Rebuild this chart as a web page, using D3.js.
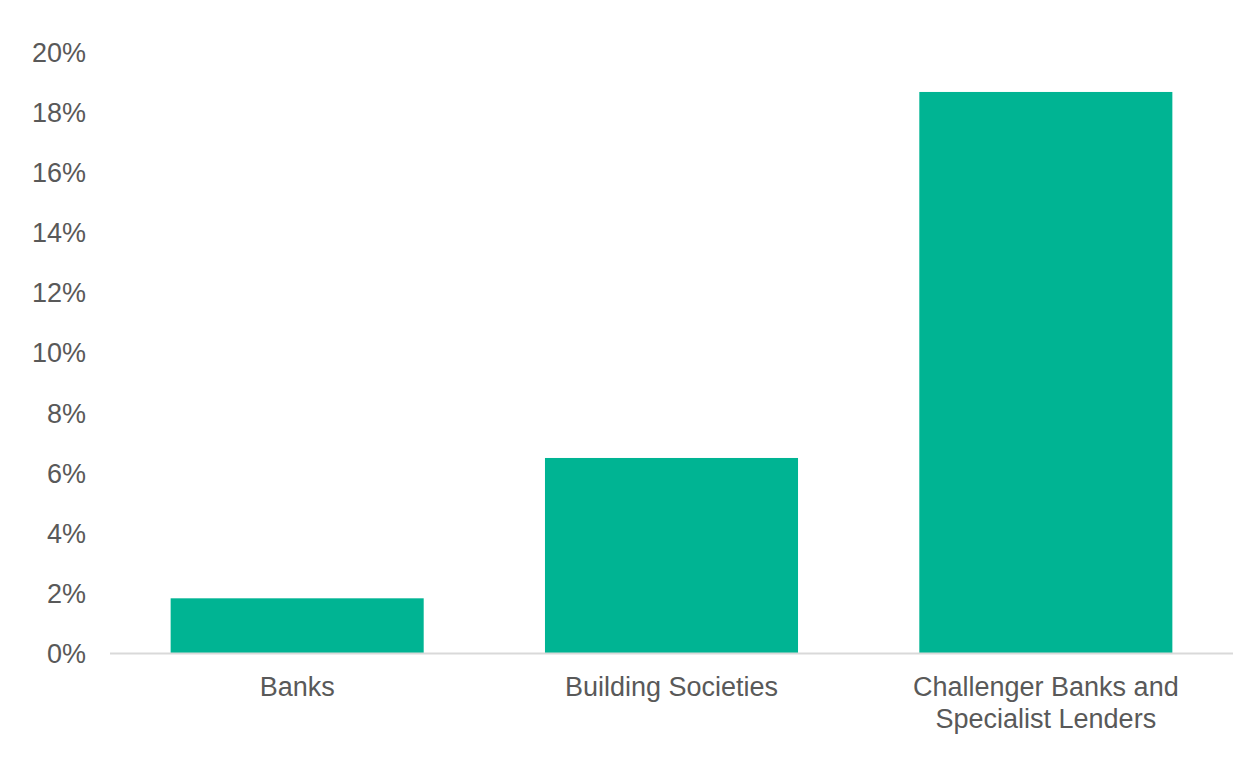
<!DOCTYPE html>
<html>
<head>
<meta charset="utf-8">
<script src="https://cdn.jsdelivr.net/npm/d3@7"></script>
<style>
  body { margin: 0; background: #fff; }
  svg text { font-family: "Liberation Sans", Arial, sans-serif; fill: #595959; }
</style>
</head>
<body>
<div id="chart"></div>
<script>
// data
const categories = ["Banks", "Building Societies", "Challenger Banks and Specialist Lenders"];
const values = [1.82, 6.49, 18.67];
const yTicks = [0, 2, 4, 6, 8, 10, 12, 14, 16, 18, 20];

const width = 1255, height = 758;
const margin = { top: 52, right: 22, bottom: 105, left: 110 };

const svg = d3.select("#chart")
  .append("svg")
  .attr("width", width)
  .attr("height", height);

const xScale = d3.scaleBand()
  .domain(categories)
  .range([margin.left, width - margin.right])
  .paddingInner(0.324)
  .paddingOuter(0.162);

const yScale = d3.scaleLinear()
  .domain([0, 20])
  .range([height - margin.bottom, margin.top]);

// y axis labels only, no line/ticks
const yAxis = svg.append("g")
  .attr("transform", "translate(" + (margin.left - 24) + ",0)")
  .call(d3.axisLeft(yScale).tickValues(yTicks).tickSize(0).tickPadding(0)
    .tickFormat(function (d) { return d + "%"; }));
yAxis.select(".domain").remove();
yAxis.selectAll("text")
  .style("font-size", "27px")
  .attr("fill", "#595959")
  .attr("dy", "0.35em");

// bars
svg.selectAll(".bar")
  .data(values)
  .enter()
  .append("rect")
  .attr("class", "bar")
  .attr("x", function (d, i) { return xScale(categories[i]); })
  .attr("y", function (d) { return yScale(d); })
  .attr("width", xScale.bandwidth())
  .attr("height", function (d) { return yScale(0) - yScale(d); })
  .attr("fill", "#00b493");

// x axis baseline
svg.append("line")
  .attr("x1", margin.left)
  .attr("x2", width - margin.right)
  .attr("y1", yScale(0) + 0.5)
  .attr("y2", yScale(0) + 0.5)
  .attr("stroke", "#d9d9d9")
  .attr("stroke-width", 2.2);

// category labels, wrapped like the original
const labelLines = {
  "Banks": ["Banks"],
  "Building Societies": ["Building Societies"],
  "Challenger Banks and Specialist Lenders": ["Challenger Banks and", "Specialist Lenders"]
};

categories.forEach(function (c) {
  const t = svg.append("text")
    .attr("x", xScale(c) + xScale.bandwidth() / 2)
    .attr("y", yScale(0) + 43)
    .attr("text-anchor", "middle")
    .style("font-size", "27px");
  labelLines[c].forEach(function (line, i) {
    t.append("tspan")
      .attr("x", xScale(c) + xScale.bandwidth() / 2)
      .attr("dy", i === 0 ? 0 : 32)
      .text(line);
  });
});
</script>
</body>
</html>
